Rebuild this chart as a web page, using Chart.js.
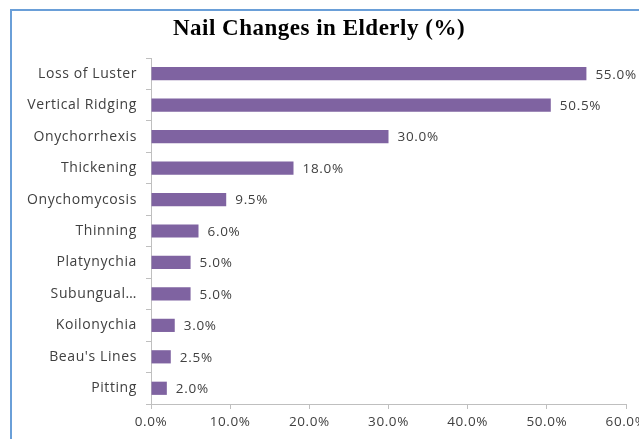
<!DOCTYPE html>
<html>
<head>
<meta charset="utf-8">
<script src="https://cdn.jsdelivr.net/npm/chart.js@4"></script>
<style>
  html, body { margin: 0; padding: 0; background: #fff; overflow: hidden; }
  #frame {
    position: absolute; left: 10px; top: 9px; width: 700px; height: 500px;
    border: 2px solid #6a9fd8; box-sizing: border-box;
  }
  #wrap { position: absolute; left: 0; top: 0; width: 660px; height: 460px; }
</style>
</head>
<body>
<div id="frame"></div>
<div id="wrap"><canvas id="chart" width="660" height="460"></canvas></div>
<script>
"use strict";

const TITLE = "Nail Changes in Elderly (%)";
const CATEGORIES = [
  "Loss of Luster", "Vertical Ridging", "Onychorrhexis", "Thickening",
  "Onychomycosis", "Thinning", "Platynychia", "Subungual…",
  "Koilonychia", "Beau's Lines", "Pitting",
];
const VALUES = [55.0, 50.5, 30.0, 18.0, 9.5, 6.0, 5.0, 5.0, 3.0, 2.5, 2.0];
const X_TICKS = [0, 10, 20, 30, 40, 50, 60];

const TEXT_COLOR = "#404040";
const AXIS_COLOR = "#bfbfbf";
const BAR_COLOR = "#7f63a1";

// numbers in the reference run a little wider than ours
const spacing = {
  id: "spacing",
  beforeDraw(chart) {
    chart.ctx.letterSpacing = "0.6px";
  },
};

// title drawn by hand so it can get its own letter spacing
const titleText = {
  id: "titleText",
  afterDraw(chart) {
    const ctx = chart.ctx;
    ctx.save();
    ctx.letterSpacing = "0.5px";
    ctx.font = "bold 23px 'Liberation Serif'";
    ctx.fillStyle = "#000";
    ctx.textAlign = "center";
    ctx.textBaseline = "middle";
    ctx.fillText(TITLE, 319, 29);
    ctx.restore();
  },
};

// value labels at the end of each bar
const barLabels = {
  id: "barLabels",
  afterDatasetsDraw(chart) {
    const ctx = chart.ctx;
    const meta = chart.getDatasetMeta(0);
    ctx.save();
    ctx.letterSpacing = "0.7px";
    ctx.font = "13.5px 'Open Sans'";
    ctx.fillStyle = TEXT_COLOR;
    ctx.textAlign = "left";
    ctx.textBaseline = "middle";
    meta.data.forEach((bar, i) => {
      ctx.fillText(VALUES[i].toFixed(1) + "%", bar.x + 9, bar.y + 1);
    });
    ctx.restore();
  },
};

new Chart(document.getElementById("chart"), {
  type: "bar",
  data: {
    labels: CATEGORIES,
    datasets: [{
      data: VALUES,
      backgroundColor: BAR_COLOR,
      borderWidth: 0,
      barPercentage: 0.42,
      categoryPercentage: 1,
    }],
  },
  options: {
    indexAxis: "y",
    responsive: false,
    animation: false,
    layout: { padding: { top: 58, right: 34, bottom: 0, left: 0 } },
    plugins: {
      legend: { display: false },
      tooltip: { enabled: false },
      title: { display: false },
    },
    scales: {
      x: {
        min: 0,
        max: 60,
        afterBuildTicks(scale) {
          scale.ticks = X_TICKS.map((v) => ({ value: v }));
        },
        afterFit(scale) { scale.height = 56; },
        border: { color: AXIS_COLOR },
        grid: { drawOnChartArea: false, tickLength: 5, color: AXIS_COLOR },
        ticks: {
          color: TEXT_COLOR,
          padding: 5,
          maxRotation: 0,
          font: { family: "'Open Sans'", size: 13.5 },
          callback: (v) => v.toFixed(1) + "%",
        },
      },
      y: {
        afterFit(scale) { scale.width = 151; },
        border: { color: AXIS_COLOR },
        grid: { drawOnChartArea: false, tickLength: 5, color: AXIS_COLOR, offset: true },
        ticks: {
          color: TEXT_COLOR,
          padding: 9,
          font: { family: "'Open Sans'", size: 14 },
          callback(v) {
            // no extra spacing on the category names
            return CATEGORIES[v];
          },
        },
      },
    },
  },
  plugins: [spacing, titleText, barLabels],
});
</script>
</body>
</html>
